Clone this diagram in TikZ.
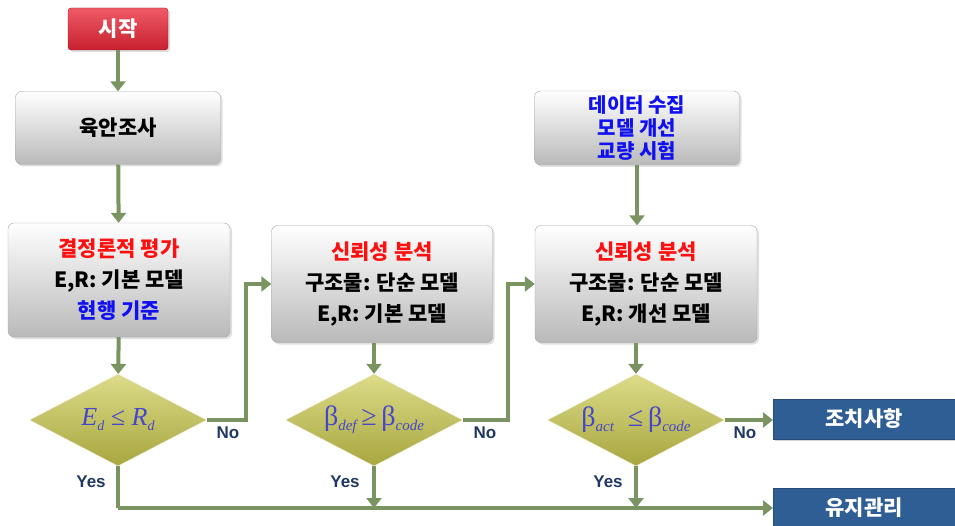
\documentclass[tikz,border=0pt]{standalone}
\usepackage{fontspec}
\setmainfont{Noto Sans CJK KR}
\newfontfamily\kr{Noto Sans CJK KR}
\newfontfamily\ser{Liberation Serif}
\newfontfamily\lat{Liberation Sans}
\usetikzlibrary{shapes.geometric,arrows.meta,shadows}
\definecolor{lineg}{HTML}{7A9461}
\definecolor{navy}{HTML}{1F3864}
\definecolor{mathb}{HTML}{4646CC}
\definecolor{krred}{HTML}{FF1010}
\definecolor{krblue}{HTML}{1010F0}
\definecolor{bluebox}{HTML}{2F5E95}
\definecolor{dtop}{HTML}{DCDC8A}
\definecolor{dbot}{HTML}{A8A63E}
\definecolor{rtop}{HTML}{EE5A66}
\definecolor{rbot}{HTML}{C8202E}
\tikzset{
  graybox/.style={draw=gray!70, rounded corners=6pt, top color=white, bottom color=gray!55,
    align=center, font=\kr\bfseries\fontsize{21}{31}\selectfont, inner sep=0pt,
    drop shadow={opacity=0.25, shadow xshift=2pt, shadow yshift=-2pt}},
  startbox/.style={draw=rbot!80!black, rounded corners=3pt, top color=rtop, bottom color=rbot,
    text=white, font=\kr\bfseries\fontsize{21}{24}\selectfont, inner sep=0pt,
    drop shadow={opacity=0.25, shadow xshift=2pt, shadow yshift=-2pt}},
  endbox/.style={fill=bluebox, draw=bluebox!80!black, text=white,
    font=\kr\bfseries\fontsize{21}{24}\selectfont, inner sep=0pt,
    drop shadow={opacity=0.35, shadow xshift=2pt, shadow yshift=-2pt}},
  dec/.style={diamond, draw=white!80!dbot, top color=dtop, bottom color=dbot, inner sep=0pt,
    text=mathb, minimum width=177pt, minimum height=92pt, aspect=1.9},
  conn/.style={draw=lineg, line width=4pt, -{Triangle[width=15pt,length=10pt]}},
  plain/.style={draw=lineg, line width=4pt},
  lab/.style={text=navy, font=\lat\bfseries\fontsize{17}{19}\selectfont},
}
\begin{document}
\begin{tikzpicture}[x=1pt,y=-1pt]
\useasboundingbox (0,0) rectangle (955,526);
% nodes
\node[startbox, minimum width=100pt, minimum height=42pt] (start) at (118,29) {시작};
\node[graybox, minimum width=205pt, minimum height=73pt] (visual) at (118,128) {육안조사};
\node[graybox, minimum width=222pt, minimum height=114pt] (det) at (119,280)
  {\textcolor{krred}{결정론적 평가}\\E,R: 기본 모델\\\textcolor{krblue}{현행 기준}};
\node[graybox, minimum width=221pt, minimum height=117pt] (rel1) at (382,284)
  {\textcolor{krred}{신뢰성 분석}\\구조물: 단순 모델\\E,R: 기본 모델};
\node[graybox, minimum width=205pt, minimum height=74pt, font=\kr\bfseries\fontsize{20}{23}\selectfont] (data) at (637,128)
  {\textcolor{krblue}{데이터 수집}\\\textcolor{krblue}{모델 개선}\\\textcolor{krblue}{교량 시험}};
\node[graybox, minimum width=222pt, minimum height=117pt] (rel2) at (646,284)
  {\textcolor{krred}{신뢰성 분석}\\구조물: 단순 모델\\E,R: 개선 모델};
\node[dec] (d1) at (118,420)
  {\ser\fontsize{26}{26}\selectfont\itshape E\raisebox{-5pt}{\fontsize{14}{14}\selectfont d}\ ≤ R\raisebox{-5pt}{\fontsize{14}{14}\selectfont d}};
\node[dec] (d2) at (374,420)
  {\ser\fontsize{28}{28}\selectfont β\raisebox{-5pt}{\fontsize{15}{15}\selectfont\itshape def}\,≥\,β\raisebox{-5pt}{\fontsize{15}{15}\selectfont\itshape code}};
\node[dec] (d3) at (636,420)
  {\ser\fontsize{28}{28}\selectfont β\raisebox{-5pt}{\fontsize{15}{15}\selectfont\itshape act}\ \ ≤\,β\raisebox{-5pt}{\fontsize{15}{15}\selectfont\itshape code}};
\node[endbox, minimum width=182pt, minimum height=40pt, anchor=west] (act) at (773,419) {조치사항};
\node[endbox, minimum width=182pt, minimum height=40pt, anchor=west] (maint) at (773,508) {유지관리};
% labels
\node[lab] (no1) at (228,433) {No};
\node[lab] (no2) at (485,433) {No};
\node[lab] (no3) at (745,433) {No};
\node[lab] (yes1) at (91,482) {Yes};
\node[lab] (yes2) at (345,482) {Yes};
\node[lab] (yes3) at (608,482) {Yes};
% connectors
\coordinate (j1) at (118,508);
\coordinate (j2) at (374,508);
\coordinate (j3) at (636,508);
\draw[conn] (start) -- (visual);
\draw[conn] (visual) -- (det);
\draw[conn] (det) -- (d1);
\draw[conn] (d1.east) -- (246,420) |- (rel1.west);
\draw[conn] ([xshift=-8pt]rel1.south) -- (d2.north);
\draw[conn] (d2.east) -- (508,420) |- (rel2.west);
\draw[conn] (data.south) -- ([xshift=-9pt]rel2.north);
\draw[conn] ([xshift=-10pt]rel2.south) -- (d3.north);
\draw[conn] (d3.east) -- (d3.east -| act.west);
\draw[plain] (d1.south) -- (j1);
\draw[conn] (j1) -- (maint.west);
\draw[conn] (d2.south) -- (j2);
\draw[conn] (d3.south) -- (j3);
\end{tikzpicture}
\end{document}
